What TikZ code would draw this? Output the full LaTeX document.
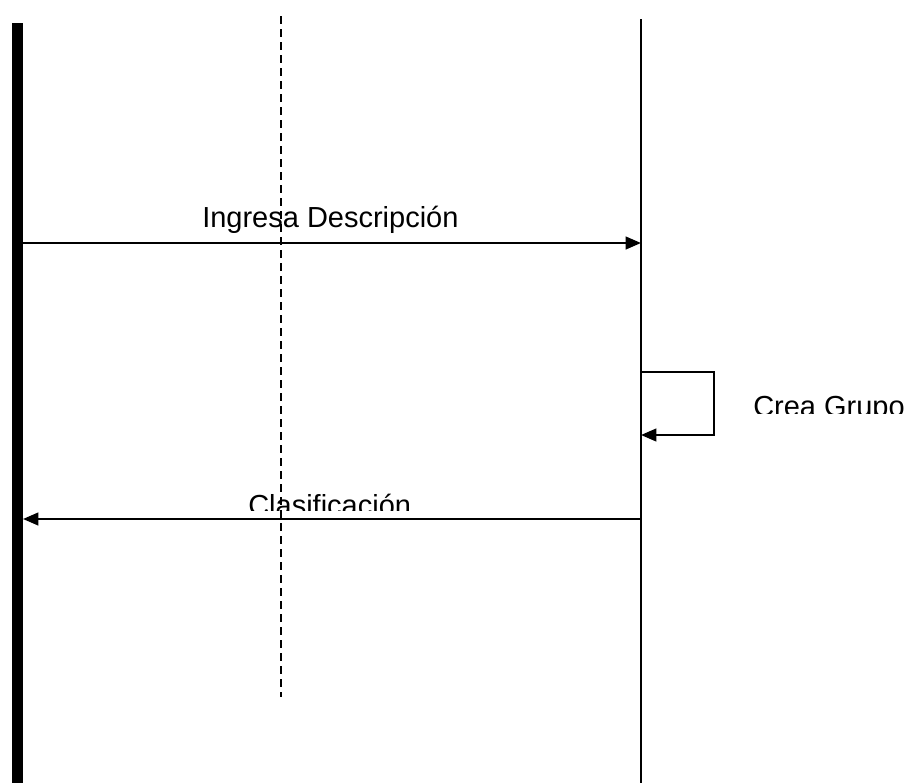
\documentclass[tikz,border=0pt]{standalone}
\usepackage{fontspec}
\setmainfont{Liberation Sans}
\usetikzlibrary{arrows.meta}
\tikzset{
  msg/.style={line width=1.6pt,-{Triangle[length=11.5pt,width=9.5pt]}},
  lifeline/.style={line width=1.6pt},
  msglabel/.style={anchor=base west,inner sep=0pt,font=\fontsize{21.75}{26}\selectfont}
}
\begin{document}
\begin{tikzpicture}[x=0.75pt,y=-0.75pt,line cap=butt,line join=miter]
        \useasboundingbox (0,0) rectangle (908,783);
        % lifelines
        \fill (12,23) rectangle (23,783);
        \coordinate (actor) at (23,0);
        \coordinate (sys) at (641,0);
        \coordinate (systop) at (641,19);
        \coordinate (sysbot) at (641,783);
        \coordinate (midtop) at (281,16);
        \coordinate (midbot) at (281,697);
        \draw [lifeline] (systop) -- (sysbot);
        \draw [line width=1.3pt,dash pattern=on 6pt off 3.75pt] (midtop) -- (midbot);

        % messages
        \coordinate (m1a) at (actor |- 0,243);
        \coordinate (m1b) at (sys |- 0,243);
        \draw [msg] (m1a) -- (m1b);
        \node [msglabel] (ingresa) at (202,227) {Ingresa Descripción};

        \coordinate (loopa) at (sys |- 0,372);
        \coordinate (loopb) at (714,435);
        \coordinate (loopc) at (sys |- 0,435);
        \draw [msg] (loopa) -| (loopb) -- (loopc);
        \begin{scope}
          \clip (740,380) rectangle (908,413);
          \node [msglabel] (crea) at (753,416) {Crea Grupo};
        \end{scope}

        \coordinate (m2a) at (sys |- 0,519);
        \coordinate (m2b) at (actor |- 0,519);
        \draw [msg] (m2a) -- (m2b);
        \begin{scope}
          \clip (230,480) rectangle (430,510);
          \node [msglabel] (clasif) at (248,515) {Clasificación};
        \end{scope}
      \end{tikzpicture}
\end{document}
